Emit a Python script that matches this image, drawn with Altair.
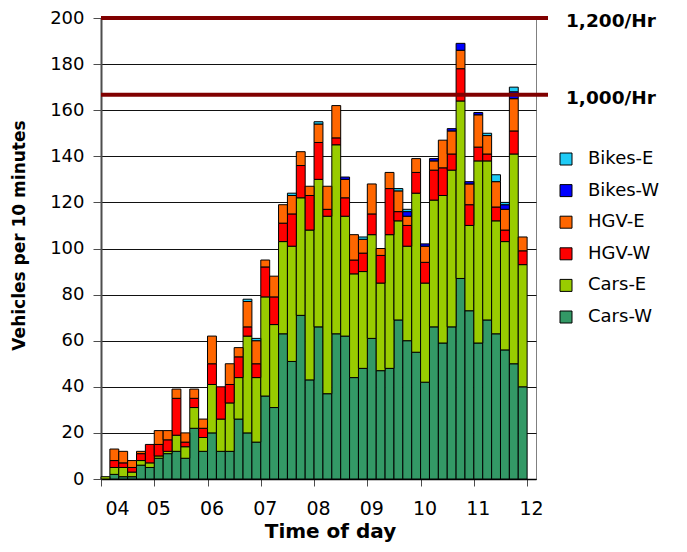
import altair as alt
import pandas as pd

# 10-minute slots, start time in minutes after midnight (04:00 ... 11:50)
slot_minutes = list(range(240, 720, 10))

cars_w = [0, 2, 1, 1, 6, 5, 9, 11, 12, 9, 22, 12, 20, 12, 12, 26, 20, 16, 36, 31, 63, 51, 71, 43,
          66, 37, 63, 62, 44, 48, 61, 47, 48, 69, 60, 55, 42, 66, 59, 66, 87, 73, 59, 69, 63, 56, 50, 40]
cars_e = [1, 3, 4, 2, 2, 2, 1, 1, 7, 5, 9, 6, 21, 14, 21, 18, 42, 28, 43, 36, 40, 50, 51, 65,
          64, 77, 82, 52, 45, 42, 45, 38, 58, 43, 41, 69, 43, 55, 64, 68, 77, 37, 79, 69, 49, 47, 91, 53]
hgv_w = [0, 3, 2, 2, 3, 8, 5, 5, 16, 2, 4, 4, 9, 14, 8, 9, 4, 6, 13, 12, 8, 14, 14, 15,
         16, 3, 3, 8, 6, 8, 9, 12, 20, 4, 9, 9, 9, 13, 12, 7, 14, 9, 6, 3, 6, 5, 10, 6]
hgv_e = [0, 5, 5, 3, 1, 0, 6, 4, 4, 4, 4, 4, 12, 0, 9, 4, 11, 10, 3, 9, 8, 8, 6, 4,
         8, 10, 14, 8, 11, 6, 13, 3, 7, 9, 4, 6, 7, 4, 12, 10, 8, 9, 14, 8, 11, 9, 14, 6]
bikes_w = [0, 0, 0, 0, 0, 0, 0, 0, 0, 0, 0, 0, 0, 0, 0, 0, 0, 0, 0, 0, 0, 0, 0, 0,
           0, 0, 0, 1, 0, 0, 0, 0, 0, 0, 2, 0, 1, 1, 0, 1, 3, 1, 1, 0, 0, 2, 3, 0]
bikes_e = [0, 0, 0, 0, 0, 0, 0, 0, 0, 0, 0, 0, 0, 0, 0, 0, 1, 1, 0, 0, 0, 1, 0, 0,
           1, 0, 0, 0, 0, 1, 0, 0, 0, 1, 1, 0, 0, 0, 0, 0, 0, 0, 0, 1, 3, 1, 2, 0]

series_names = ["Cars-W", "Cars-E", "HGV-W", "HGV-E", "Bikes-W", "Bikes-E"]
series_values = [cars_w, cars_e, hgv_w, hgv_e, bikes_w, bikes_e]
legend_order = ["Bikes-E", "Bikes-W", "HGV-E", "HGV-W", "Cars-E", "Cars-W"]
legend_colors = ["#1FCBF5", "#0000FF", "#FF6600", "#FF0000", "#99CC00", "#339966"]

hour_ticks = [4, 5, 6, 7, 8, 9, 10, 11, 12]

limits_per_hour = [1200, 1000]
limit_labels = ["1,200/Hr", "1,000/Hr"]

rows = []
for k, (name, vals) in enumerate(zip(series_names, series_values)):
    for m, v in zip(slot_minutes, vals):
        if v > 0:
            rows.append({"start": m / 60, "end": (m + 10) / 60, "series": name,
                         "value": v, "order": k})
df = pd.DataFrame(rows)

lim = pd.DataFrame({"y": [v / 6 for v in limits_per_hour], "label": limit_labels})

bars = alt.Chart(df).transform_stack(
    stack="value", groupby=["start"], as_=["y0", "y1"],
    sort=[alt.SortField("order", order="ascending")],
).mark_bar(stroke="black", strokeWidth=1).encode(
    x=alt.X("start:Q",
            scale=alt.Scale(domain=[4, 12 + 1 / 6], nice=False, zero=False),
            axis=alt.Axis(values=hour_ticks,
                          labelExpr="datum.value < 10 ? '0' + datum.value : '' + datum.value",
                          grid=False, domainColor="black", domainWidth=1.5,
                          tickColor="#4d4d4d", tickSize=7, tickWidth=1,
                          labelFont="DejaVu Sans", labelFontSize=19, labelColor="black",
                          labelPadding=13, labelOffset=4,
                          title="Time of day", titleFont="DejaVu Sans", titleFontSize=20,
                          titleFontWeight="bold", titleColor="black",
                          titleX=229, titleY=58, titleAlign="center",
                          titleBaseline="alphabetic")),
    x2="end:Q",
    y=alt.Y("y0:Q",
            scale=alt.Scale(domain=[0, 200], nice=False, zero=True),
            axis=alt.Axis(values=list(range(0, 201, 20)), grid=True,
                          gridColor="#111111", gridWidth=1,
                          domainColor="#4d4d4d", domainWidth=2,
                          tickColor="#4d4d4d", tickSize=8, tickWidth=1,
                          labelFont="DejaVu Sans", labelFontSize=18, labelColor="black",
                          labelPadding=9,
                          title="Vehicles per 10 minutes", titleFont="DejaVu Sans",
                          titleFontSize=17, titleFontWeight="bold", titleColor="black",
                          titleX=-82, titleY=217, titleAngle=270,
                          titleAlign="center", titleBaseline="middle")),
    y2="y1:Q",
    color=alt.Color("series:N",
                    scale=alt.Scale(domain=legend_order, range=legend_colors),
                    legend=alt.Legend(title=None, orient="none", legendX=456, legendY=132,
                                      symbolType="square", symbolSize=144,
                                      symbolStrokeColor="black", symbolStrokeWidth=1,
                                      labelFont="DejaVu Sans", labelFontSize=18,
                                      labelColor="black", labelOffset=13,
                                      rowPadding=13.6, padding=0)),
)

rules = alt.Chart(lim).mark_rule(color="#800000", strokeWidth=4).encode(
    y=alt.Y("y:Q"),
    x=alt.value(0),
    x2=alt.value(447),
)

texts = alt.Chart(lim).mark_text(align="left", baseline="middle", dy=3,
                                 font="DejaVu Sans", fontWeight="bold", fontSize=18.5,
                                 color="black").encode(
    y=alt.Y("y:Q"),
    x=alt.value(465),
    text="label:N",
)

chart = alt.layer(bars, rules, texts).properties(
    width=435, height=461,
    padding={"left": 93, "top": 10, "right": 143, "bottom": 65},
    autosize=alt.AutoSizeParams(type="none"),
).configure_view(stroke="#808080", strokeWidth=1)

chart.save("out.html", embed_options={"renderer": "svg", "actions": False})
